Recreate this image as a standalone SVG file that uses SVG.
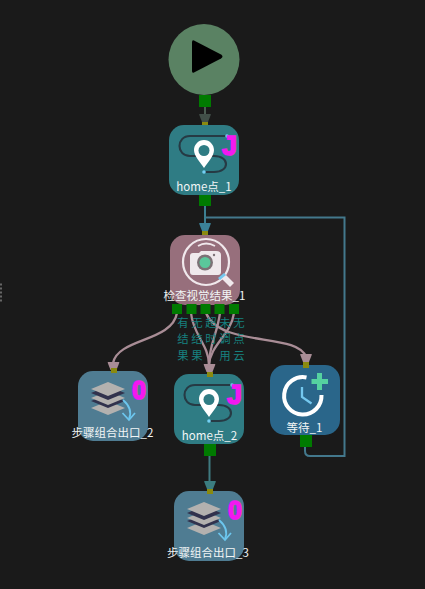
<svg xmlns="http://www.w3.org/2000/svg" width="425" height="589" viewBox="0 0 425 589">
<style>
text{font-family:"Noto Sans CJK SC","Liberation Sans",sans-serif}
.lb{font-size:11.5px;fill:#f2f6f6;text-anchor:middle}
.pl{font-size:11.400px;fill:#17807f;text-anchor:middle}
.j{font-family:"Liberation Sans",sans-serif;font-size:27px;font-weight:700;fill:#f318f0;stroke:#f318f0;stroke-width:1.5;text-anchor:middle}
.z{font-family:"Liberation Sans",sans-serif;font-size:25px;font-weight:700;fill:#f318f0;stroke:#f318f0;stroke-width:1.6;text-anchor:middle}
.po{fill:#007a00}
.pi{fill:#8a8a10}
.c{fill:none;stroke-width:2}
.p{fill:none;stroke-width:2.3;stroke:#a98d96}
.r{fill:none;stroke:#263a44;stroke-width:2.1}
</style>
<defs>
<g id="pin">
<path d="M23-23H-14C-28-23-28-3-14-3H10C26-3 26 13 10 13H0" class="r"/>
<circle cx="23" cy="-23" r="1.800" fill="#74d0f4"/>
<circle cx="0" cy="13" r="1.800" fill="#74d0f4"/>
<path d="M0-19C-6-19-10-14-10-9C-10-3-4 3 0 9C4 3 10-3 10-9C10-14 6-19 0-19Z" fill="#fff"/>
<circle cx="0" cy="-8.500" r="5.500" fill="#2f7c84"/>
</g>
<g id="stack">
<path d="M-17 10L0 3L17 10L0 17Z" fill="#b3b1af"/>
<path d="M-17 3L0-4L17 3L0 10Z" fill="#31324d"/>
<path d="M-17 0L0-7L17 0L0 7Z" fill="#b3b1af"/>
<path d="M-17-5L0-12L17-5L0 2Z" fill="#31324d"/>
<path d="M-17-9L0-16L17-9L0-2Z" fill="#b3b1af"/>
<path d="M15 2C22 8 24 14 21 21" fill="none" stroke="#6cc6ee" stroke-width="1.800"/>
<path d="M14.500 15L21 22L27 15" fill="none" stroke="#6cc6ee" stroke-width="1.800"/>
</g>
<path id="head" d="M-5.500-8H5.500Q6-8 5.700-7L3 0H-3L-5.700-7Q-6-8-5.500-8Z"/>
</defs>
<rect width="425" height="589" fill="#1a1a1a"/>
<path d="M0 284.500H2M0 288.500H2M0 292.500H2M0 296.500H2M0 300.500H2" stroke="#666" stroke-width="2" fill="none"/>
<g id="connectors">
<path class="c" stroke="#4b5d52" d="M205 106V116"/>
<use href="#head" x="205" y="122" fill="#414f48"/>
<path class="c" stroke="#3d7f91" d="M205 206V225"/>
<use href="#head" x="205" y="231" fill="#3b8197"/>
<path class="c" stroke="#43788c" d="M305 447V451Q305 456 310 456H344.500V217.500H206"/>
<path class="p" d="M177 313C172 342 118 338 113 363"/>
<use href="#head" x="113.500" y="370" fill="#a98d96"/>
<path class="p" d="M191 313C193 335 209 345 209 365"/>
<path class="p" d="M220 313C217 335 209 345 209 365"/>
<path class="p" d="M234 313C231 335 210 345 209 365"/>
<use href="#head" x="209.500" y="372" fill="#a98d96"/>
<path class="p" d="M206 313C220 348 298 332 306 357"/>
<use href="#head" x="306" y="362" fill="#a98d96"/>
<path class="c" stroke="#3f7a80" d="M209.500 456V484"/>
<use href="#head" x="210" y="489" fill="#3b7d80"/>
</g>
<g id="start">
<circle cx="204" cy="59.500" r="35.500" fill="#5a8263"/>
<path d="M194 40.500L221 54.500Q224 56.500 221 58.500L194 72.500Q192 73.500 192 71V42.500Q192 39.500 194 40.500Z" fill="#000"/>
<rect class="po" x="199" y="95" width="12" height="12"/>
<rect class="pi" x="202" y="122" width="6" height="5"/>
</g>
<g id="home1">
<rect x="169" y="125" width="70" height="70" rx="15" fill="#2f7c84"/>
<use href="#pin" x="204" y="159"/>
<text class="j" x="229.500" y="155">J</text>
<text class="lb" x="204" y="191">home点_1</text>
<rect class="po" x="199" y="195" width="12" height="11"/>
<rect class="pi" x="202" y="231" width="6" height="6"/>
</g>
<g id="check">
<rect x="170" y="235" width="70" height="70" rx="15" fill="#976f7c"/>
<circle cx="206" cy="262" r="23" fill="none" stroke="#f0e8ec" stroke-width="2.200"/>
<path d="M198 246Q206 241 215 246" fill="none" stroke="#f0e8ec" stroke-width="1.800"/>
<path d="M193 253H199L201 251H216Q221 251 221 255V272Q221 275 218 275H193Q190 275 190 272V256Q190 253 193 253Z" fill="#efe9ec"/>
<circle cx="205" cy="262.500" r="8" fill="#7c7276"/>
<circle cx="205" cy="262.500" r="5.500" fill="#5ac79b"/>
<circle cx="214" cy="255" r="1.200" fill="#7c7276"/>
<path d="M222 279L226 275L234 283L230 287Z" fill="#f0e8ec"/>
<path d="M218 278L224 273L226 275L220 280Z" fill="#74c8ef"/>
<text class="lb" x="204.500" y="300">检查视觉结果_1</text>
<rect class="po" x="172" y="304" width="10" height="10"/>
<rect class="po" x="186.500" y="304" width="10" height="10"/>
<rect class="po" x="200.500" y="304" width="10" height="10"/>
<rect class="po" x="214.500" y="304" width="10" height="10"/>
<rect class="po" x="229" y="304" width="10" height="10"/>
<text class="pl" x="183" y="326.500">有<tspan x="183" dy="16.500">结</tspan><tspan x="183" dy="16.500">果</tspan></text>
<text class="pl" x="197" y="326.500">无<tspan x="197" dy="16.500">结</tspan><tspan x="197" dy="16.500">果</tspan></text>
<text class="pl" x="211" y="326.500">超<tspan x="211" dy="16.500">时</tspan></text>
<text class="pl" x="225" y="326.500">未<tspan x="225" dy="16.500">调</tspan><tspan x="225" dy="16.500">用</tspan></text>
<text class="pl" x="239" y="326.500">无<tspan x="239" dy="16.500">点</tspan><tspan x="239" dy="16.500">云</tspan></text>
</g>
<g id="exit2">
<rect x="78" y="371" width="70" height="70" rx="15" fill="#4f7c92"/>
<use href="#stack" x="108" y="398"/>
<text class="z" x="139" y="399">0</text>
<text class="lb" x="112.500" y="437">步骤组合出口_2</text>
<rect class="pi" x="111" y="368" width="6" height="5"/>
</g>
<g id="home2">
<rect x="174" y="374" width="70" height="70" rx="15" fill="#2f7c84"/>
<use href="#pin" x="209" y="408"/>
<text class="j" x="234.500" y="404">J</text>
<text class="lb" x="209.500" y="440">home点_2</text>
<rect class="pi" x="207" y="372" width="6" height="5"/>
<rect class="po" x="204" y="444" width="12" height="12"/>
</g>
<g id="wait">
<rect x="270" y="365" width="70" height="70" rx="15" fill="#2a668a"/>
<path d="M306.500 377.500A18.700 18.700 0 1 0 321.500 395" fill="none" stroke="#fff" stroke-width="4"/>
<path d="M302 387V397L311.500 403.500" fill="none" stroke="#74c8ef" stroke-width="2.300"/>
<path d="M317 373H322V379H328V384H322V390H317V384H311.500V379H317Z" fill="#55d2a0"/>
<text class="lb" x="304.500" y="431.500">等待_1</text>
<rect class="pi" x="303" y="362" width="6" height="6"/>
<rect class="po" x="300" y="435" width="12" height="12"/>
</g>
<g id="exit3">
<rect x="174" y="491" width="70" height="70" rx="15" fill="#4f7c92"/>
<use href="#stack" x="204" y="518"/>
<text class="z" x="235" y="519">0</text>
<text class="lb" x="208" y="557">步骤组合出口_3</text>
<rect class="pi" x="207" y="489" width="6" height="5"/>
</g>
</svg>
